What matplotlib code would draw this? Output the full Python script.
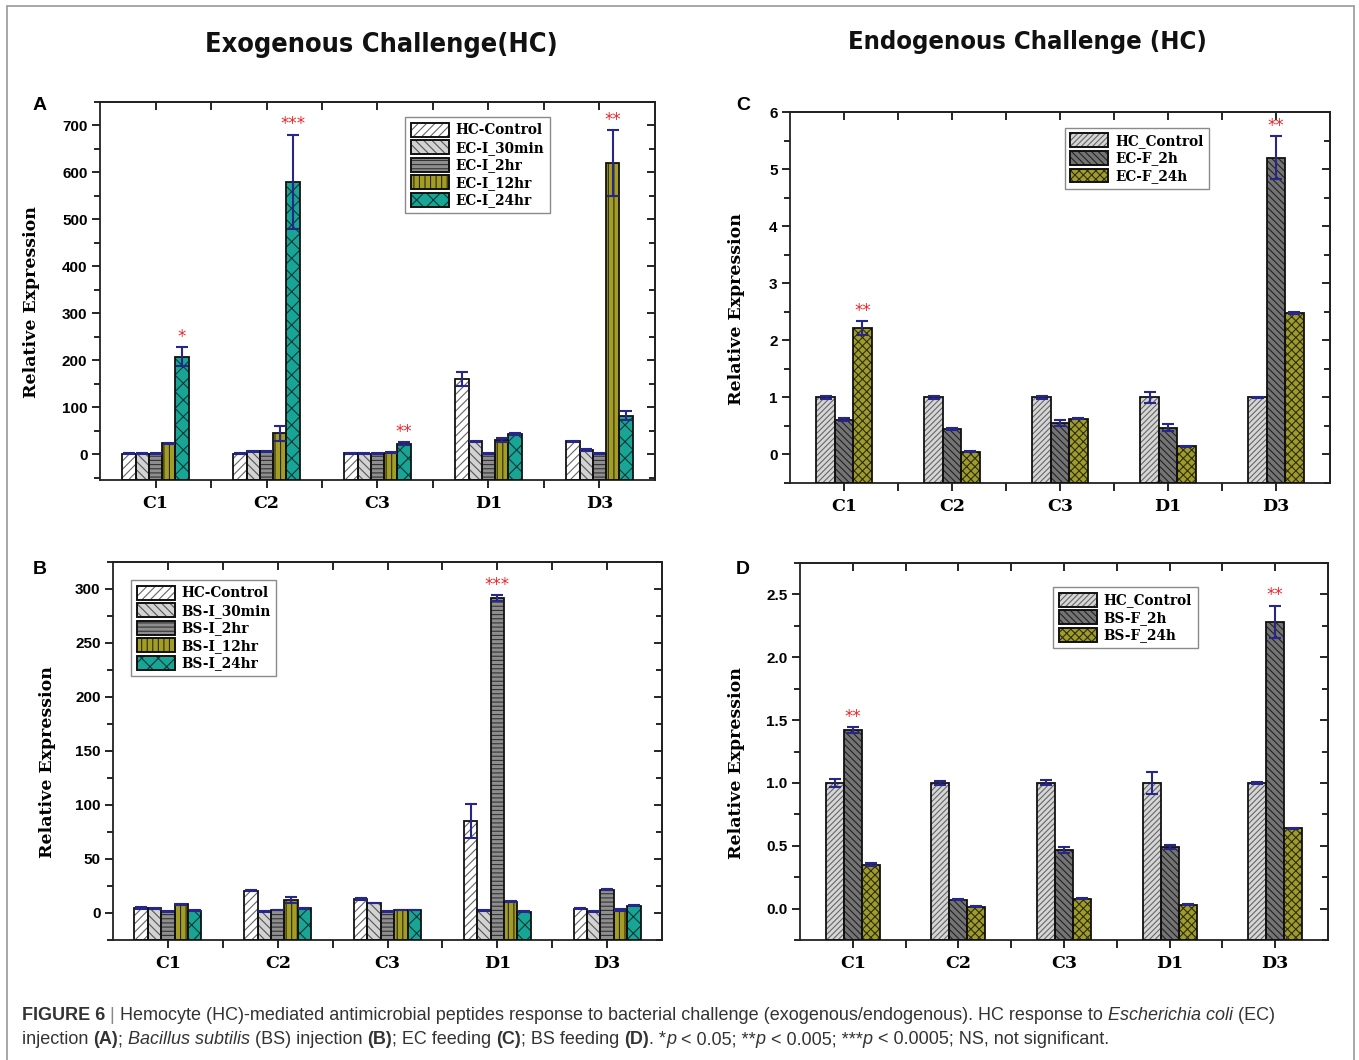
import numpy as np
import matplotlib
matplotlib.use("Agg")
import matplotlib.pyplot as plt
from matplotlib import font_manager as fm
from matplotlib.patches import Patch, Rectangle
from matplotlib.legend_handler import HandlerTuple
from matplotlib.ticker import MultipleLocator, FixedLocator, FormatStrFormatter

# ===== DADOS =====
genes = ["C1", "C2", "C3", "D1", "D3"]

# A - injeção de E. coli
nomes_a = ["HC-Control", "EC-I_30min", "EC-I_2hr", "EC-I_12hr", "EC-I_24hr"]
media_a = [[1, 1, 2, 160, 27],
           [1, 6, 1, 27, 8],
           [1, 6, 1, 1, 1],
           [23, 45, 3, 30, 620],
           [208, 580, 22, 43, 82]]
erro_a = [[1, 1, 1, 14, 1],
          [1, 1, 1, 1, 2],
          [1, 1, 1, 1, 1],
          [1, 16, 1, 5, 70],
          [20, 100, 3, 2, 10]]
sig_a = [(4, 0, "*"), (4, 1, "***"), (4, 2, "**"), (3, 4, "**")]

# B - injeção de B. subtilis
nomes_b = ["HC-Control", "BS-I_30min", "BS-I_2hr", "BS-I_12hr", "BS-I_24hr"]
media_b = [[4.5, 20.5, 13.3, 85, 4],
           [4.3, 1.2, 9.3, 2.5, 1.2],
           [1.2, 2.8, 1.2, 291.5, 21.7],
           [8, 12, 2.8, 10.5, 2.8],
           [2.2, 4.3, 2.8, 1.2, 6.8]]
erro_b = [[1, 0.5, 1, 16, 0.5],
          [0.3, 0.3, 0.3, 0.3, 0.3],
          [0.3, 0.3, 0.3, 2.5, 0.3],
          [0.5, 2.5, 0.3, 0.5, 0.5],
          [0.3, 0.3, 0.3, 0.3, 0.3]]
sig_b = [(2, 3, "***")]

# C - alimentação com E. coli
nomes_c = ["HC_Control", "EC-F_2h", "EC-F_24h"]
media_c = [[1, 1, 1, 1, 1],
           [0.61, 0.45, 0.55, 0.47, 5.2],
           [2.22, 0.05, 0.63, 0.14, 2.48]]
erro_c = [[0.02, 0.02, 0.02, 0.09, 0.01],
          [0.03, 0.02, 0.05, 0.06, 0.38],
          [0.12, 0.01, 0.01, 0.01, 0.02]]
sig_c = [(2, 0, "**"), (1, 4, "**")]

# D - alimentação com B. subtilis
nomes_d = ["HC_Control", "BS-F_2h", "BS-F_24h"]
media_d = [[1, 1, 1, 1, 1],
           [1.42, 0.07, 0.465, 0.487, 2.28],
           [0.35, 0.015, 0.08, 0.032, 0.64]]
erro_d = [[0.03, 0.015, 0.02, 0.085, 0.005],
          [0.025, 0.005, 0.025, 0.015, 0.13],
          [0.015, 0.003, 0.005, 0.003, 0.005]]
sig_d = [(1, 0, "**"), (1, 4, "**")]

# ===== ESTILOS =====
# (cor de fundo, hachura, cor da hachura)
estilo_inj = [("#ffffff", "////", "#666666"),
              ("#d2d2d2", "\\\\\\\\", "#555555"),
              ("#8e8e8e", "----", "#333333"),
              ("#a39d26", "|||", "#2a2a10"),
              ("#19a596", "xx", "#0a3a36")]
estilo_ali = [("#d6d6d6", "//////", "#666666"),
              ("#747474", "\\\\\\\\\\", "#222222"),
              ("#a09c2c", "xxxx", "#2e2e10")]

# fonte condensada para os títulos, se houver alguma instalada
fonte_titulo = fm.FontProperties(family="DejaVu Sans", weight="bold")
for f in fm.fontManager.ttflist:
    condensada = f.stretch in ("condensed", "semi-condensed", "extra-condensed") \
        or "Condensed" in f.name or "Narrow" in f.name
    if condensada and f.weight in ("bold", 700) and f.style == "normal":
        fonte_titulo = fm.FontProperties(fname=f.fname)
        break

fonte_cap = "Liberation Sans"
fonte_serif = "DejaVu Serif"
fonte_sans = "Liberation Sans"
cor_erro = "#27278a"
cor_estrela = "#e8262a"

plt.rcParams["hatch.linewidth"] = 0.8

W, H = 1359, 1060
fig = plt.figure(figsize=(W / 100, H / 100), dpi=100)


def caixa(x0, y_top, x1, y_bot):
    return [x0 / W, 1 - y_bot / H, (x1 - x0) / W, (y_bot - y_top) / H]


def painel(ax, medias, erros, nomes, estilos, ylim, passo, fmt, largura, sig, leg_pos, ylab_pos):
    n = len(medias)
    x = np.arange(1, len(genes) + 1)
    base = ylim[0]
    handles = []
    for i in range(n):
        pos = x + (i - (n - 1) / 2) * largura
        fc, hatch, hc = estilos[i]
        v = np.array(medias[i], dtype=float)
        ax.bar(pos, v - base, bottom=base, width=largura, color=fc, hatch=hatch,
               edgecolor=hc, linewidth=0, zorder=2)
        ax.bar(pos, v - base, bottom=base, width=largura, facecolor="none",
               edgecolor="#111111", linewidth=1.3, zorder=3)
        ax.errorbar(pos, v, yerr=erros[i], fmt="none", ecolor=cor_erro, elinewidth=1.5,
                    capsize=4, capthick=1.5, zorder=4)
        handles.append((Patch(facecolor=fc, hatch=hatch, edgecolor=hc, linewidth=0),
                        Patch(facecolor="none", edgecolor="#111111", linewidth=1.4)))

    for i, g, txt in sig:
        xp = x[g] + (i - (n - 1) / 2) * largura
        ax.annotate(txt, (xp, medias[i][g] + erros[i][g]), xytext=(0, 1),
                    textcoords="offset points", ha="center", va="bottom",
                    color=cor_estrela, fontsize=12, zorder=5)

    ax.set_xlim(0.5, 5.5)
    ax.set_ylim(*ylim)
    ax.set_xticks(x)
    ax.set_xticklabels(genes, fontfamily=fonte_serif, fontweight="bold", fontsize=12.5)
    ax.xaxis.set_minor_locator(FixedLocator([1.5, 2.5, 3.5, 4.5]))
    ax.yaxis.set_major_locator(MultipleLocator(passo))
    ax.yaxis.set_minor_locator(MultipleLocator(passo / 2))
    ax.yaxis.set_major_formatter(FormatStrFormatter(fmt))
    for t in ax.get_yticklabels():
        t.set_fontfamily(fonte_sans)
        t.set_fontweight("bold")
        t.set_fontsize(11)
    ax.tick_params(axis="x", which="both", direction="out", length=6, width=1.2, pad=5)
    ax.tick_params(axis="y", which="major", direction="out", length=6, width=1.2, pad=3)
    ax.tick_params(axis="y", which="minor", direction="out", length=4, width=1.2)
    for s in ax.spines.values():
        s.set_linewidth(1.3)
        s.set_color("#222222")

    # ticks espelhados para dentro (topo e direita)
    topo = ax.secondary_xaxis("top")
    topo.set_xticks(x)
    topo.xaxis.set_minor_locator(FixedLocator([1.5, 2.5, 3.5, 4.5]))
    topo.tick_params(which="both", direction="in", length=6, width=1.2, labeltop=False)
    dir_ = ax.secondary_yaxis("right")
    dir_.yaxis.set_major_locator(MultipleLocator(passo))
    dir_.yaxis.set_minor_locator(MultipleLocator(passo / 2))
    dir_.tick_params(which="major", direction="in", length=6, width=1.2, labelright=False)
    dir_.tick_params(which="minor", direction="in", length=4, width=1.2)
    for sec in (topo, dir_):
        for s in sec.spines.values():
            s.set_linewidth(1.3)
            s.set_color("#222222")

    ax.set_ylabel("Relative Expression", fontfamily=fonte_serif, fontweight="bold", fontsize=12.5)
    ax.yaxis.set_label_coords(*ylab_pos)

    leg = ax.legend(handles, nomes, loc="upper left", bbox_to_anchor=leg_pos,
                    handler_map={tuple: HandlerTuple(ndivide=1, pad=0)},
                    prop={"family": fonte_serif, "weight": "bold", "size": 9.8},
                    fancybox=False, edgecolor="#8a8a8a", framealpha=1,
                    handlelength=2.8, handleheight=1.2, labelspacing=0.22,
                    borderpad=0.4, handletextpad=0.5, borderaxespad=0)
    leg.get_frame().set_linewidth(1.0)
    leg.set_zorder(6)


ax_a = fig.add_axes(caixa(100, 102, 655, 480))
ax_b = fig.add_axes(caixa(113, 562, 662, 940))
ax_c = fig.add_axes(caixa(790, 112, 1330, 483))
ax_d = fig.add_axes(caixa(800, 563, 1328, 940))

painel(ax_a, media_a, erro_a, nomes_a, estilo_inj, (-55, 750), 100, "%d", 0.12, sig_a,
       (0.55, 0.96), (-0.108, 0.47))
painel(ax_b, media_b, erro_b, nomes_b, estilo_inj, (-25, 325), 50, "%d", 0.122, sig_b,
       (0.033, 0.952), (-0.104, 0.47))
painel(ax_c, media_c, erro_c, nomes_c, estilo_ali, (-0.5, 6), 1, "%d", 0.17, sig_c,
       (0.509, 0.957), (-0.083, 0.47))
painel(ax_d, media_d, erro_d, nomes_d, estilo_ali, (-0.25, 2.75), 0.5, "%.1f", 0.17, sig_d,
       (0.48, 0.936), (-0.104, 0.47))

# letras dos painéis
for letra, px, py in [("A", 40, 105), ("B", 40, 570), ("C", 743, 105), ("D", 743, 570)]:
    fig.text(px / W, 1 - py / H, letra, ha="center", va="center", fontfamily=fonte_sans,
             fontweight="bold", fontsize=14)

rend = fig.canvas.get_renderer()

# títulos, ajustados à largura do original
for titulo, cx, cy, larg in [("Exogenous Challenge(HC)", 381, 45, 352),
                             ("Endogenous Challenge (HC)", 1027, 42, 358)]:
    t = fig.text(cx / W, 1 - cy / H, titulo, ha="center", va="center",
                 fontproperties=fonte_titulo, fontsize=10, color="#111111")
    w = t.get_window_extent(rend).width
    t.set_fontsize(10 * larg / w)

# moldura da figura
fig.add_artist(Rectangle((7 / W, -0.02), (1354 - 7) / W, 1.02 - 6 / H, transform=fig.transFigure,
                         fill=False, edgecolor="#a0a0a0", linewidth=1.3))

# legenda da figura (texto com estilos misturados)
linha1 = [("FIGURE 6", "bold", "normal", "#333333"), (" | ", "light", "normal", "#888888"),
          ("Hemocyte (HC)-mediated antimicrobial peptides response to bacterial challenge "
           "(exogenous/endogenous). HC response to ", "normal", "normal", "#333333"),
          ("Escherichia coli", "normal", "italic", "#333333"),
          (" (EC)", "normal", "normal", "#333333")]
linha2 = [("injection ", "normal", "normal", "#333333"), ("(A)", "bold", "normal", "#333333"),
          ("; ", "normal", "normal", "#333333"), ("Bacillus subtilis", "normal", "italic", "#333333"),
          (" (BS) injection ", "normal", "normal", "#333333"), ("(B)", "bold", "normal", "#333333"),
          ("; EC feeding ", "normal", "normal", "#333333"), ("(C)", "bold", "normal", "#333333"),
          ("; BS feeding ", "normal", "normal", "#333333"), ("(D)", "bold", "normal", "#333333"),
          (". *", "normal", "normal", "#333333"), ("p", "normal", "italic", "#333333"),
          (" < 0.05; **", "normal", "normal", "#333333"), ("p", "normal", "italic", "#333333"),
          (" < 0.005; ***", "normal", "normal", "#333333"), ("p", "normal", "italic", "#333333"),
          (" < 0.0005; NS, not significant.", "normal", "normal", "#333333")]


def largura_trecho(s, fs, peso, estilo):
    kw = dict(fontsize=fs, fontfamily=fonte_cap, fontweight=peso, fontstyle=estilo)
    t1 = fig.text(0, 0, "x" + s + "x", **kw)
    t0 = fig.text(0, 0, "xx", **kw)
    w = t1.get_window_extent(rend).width - t0.get_window_extent(rend).width
    t1.remove()
    t0.remove()
    return w


base_fs = 12
tot = sum(largura_trecho(s, base_fs, p, e) for s, p, e, c in linha1)
fs_cap = base_fs * (1277 - 22) / tot

for linha, ypx in [(linha1, 1015), (linha2, 1040)]:
    xpx = 22
    for s, p, e, c in linha:
        fig.text(xpx / W, 1 - ypx / H, s, fontsize=fs_cap, fontfamily=fonte_cap,
                 fontweight=p, fontstyle=e, color=c, ha="left", va="center")
        xpx += largura_trecho(s, fs_cap, p, e)

fig.savefig("out.png", dpi=100)
